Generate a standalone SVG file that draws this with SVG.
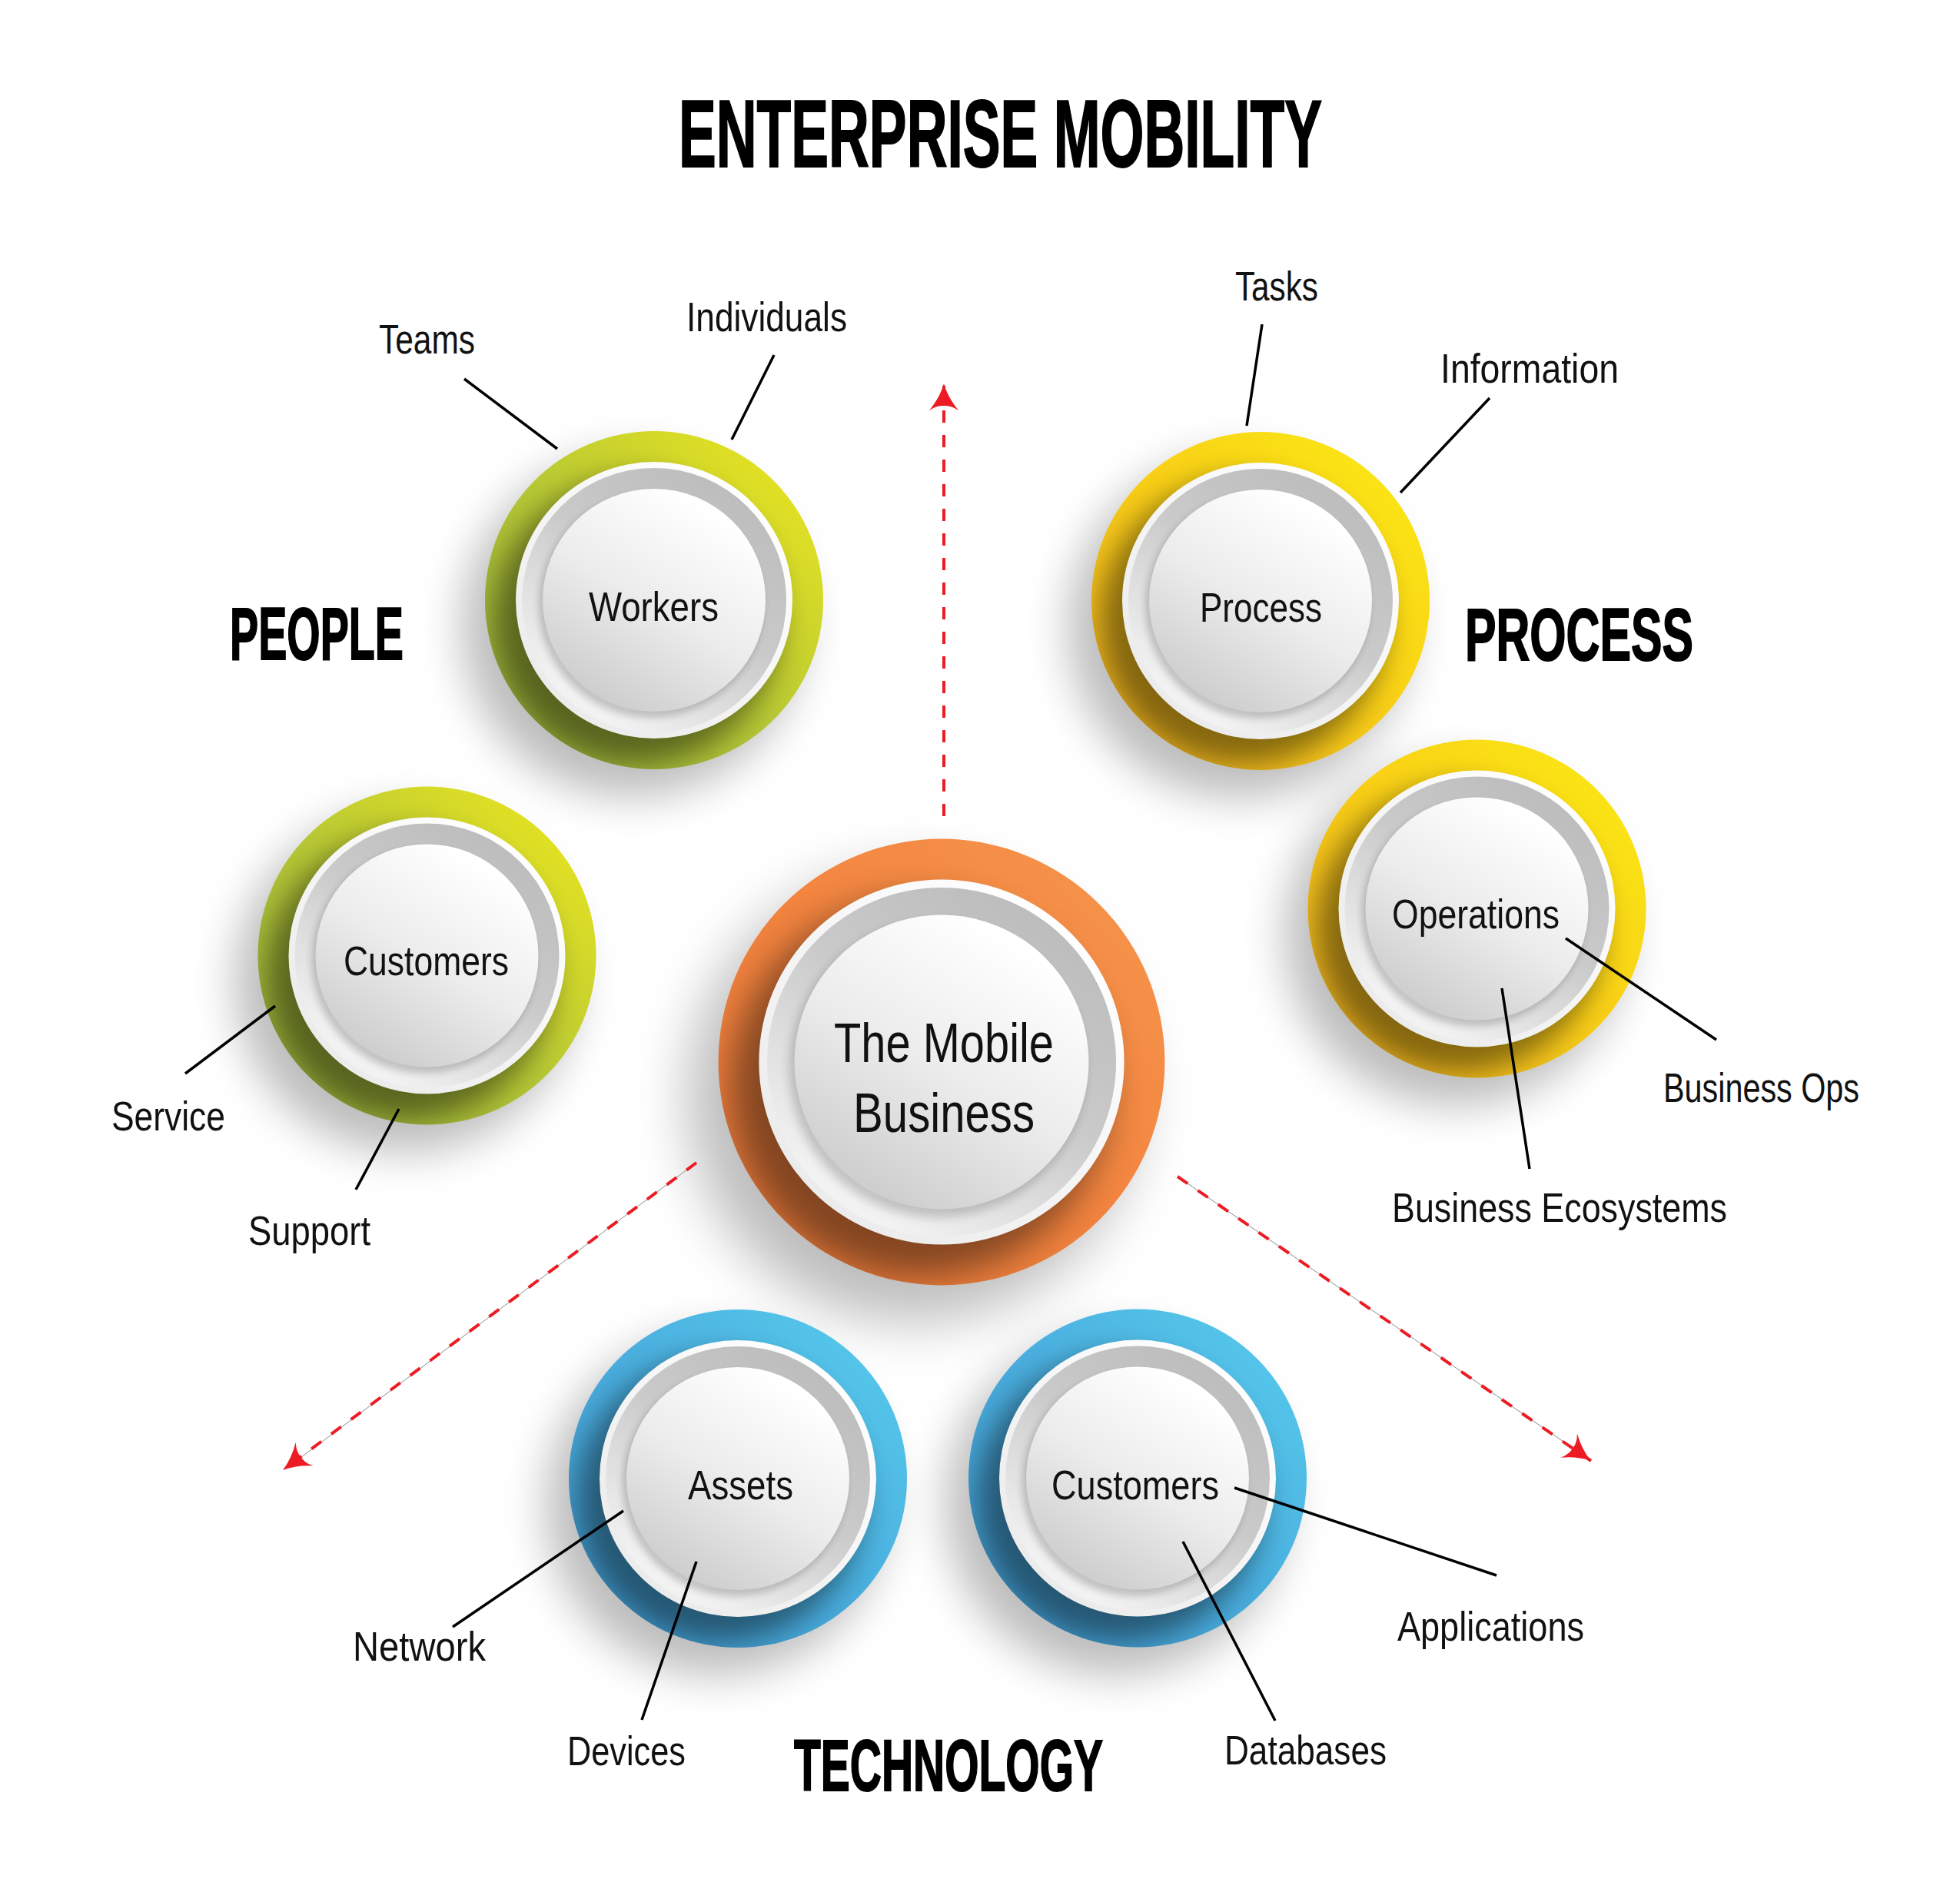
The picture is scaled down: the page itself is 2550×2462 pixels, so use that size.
<svg xmlns="http://www.w3.org/2000/svg" xmlns:xlink="http://www.w3.org/1999/xlink" width="2550" height="2462" viewBox="0 0 2550 2462">
<style>
  .lbl { font-family: "Liberation Sans", Arial, sans-serif; font-size: 54px; fill: #111; }
  .big { font-family: "Liberation Sans", Arial, sans-serif; font-size: 72px; fill: #111; }
  .hdr { font-family: "Liberation Sans", Arial, sans-serif; font-weight: 700; fill: #000; stroke: #000; stroke-width: 2px; }
  .lead { stroke: #000; stroke-width: 3.5; fill: none; }
  .hair { stroke: #8a8a8a; stroke-width: 1; fill: none; }
  .dash { stroke: #ED1C24; stroke-width: 4; stroke-dasharray: 16 16; fill: none; }
</style>
<defs>
  <linearGradient id="gGreen" x1="1" y1="0" x2="0" y2="1">
    <stop offset="0" stop-color="#F0E91C"/>
    <stop offset="0.5" stop-color="#B9C935"/>
    <stop offset="1" stop-color="#8FAA3C"/>
  </linearGradient>
  <linearGradient id="gYellow" x1="1" y1="0" x2="0" y2="1">
    <stop offset="0" stop-color="#FAEC14"/>
    <stop offset="0.5" stop-color="#F9CE17"/>
    <stop offset="1" stop-color="#ECAC22"/>
  </linearGradient>
  <linearGradient id="gOrange" x1="1" y1="0" x2="0" y2="1">
    <stop offset="0" stop-color="#F6964D"/>
    <stop offset="0.5" stop-color="#F3843F"/>
    <stop offset="1" stop-color="#EC7A3B"/>
  </linearGradient>
  <linearGradient id="gBlue" x1="1" y1="0" x2="0" y2="1">
    <stop offset="0" stop-color="#58CDEE"/>
    <stop offset="0.5" stop-color="#4AAEDE"/>
    <stop offset="1" stop-color="#3F94CA"/>
  </linearGradient>
  <linearGradient id="gDisk" x1="0.85" y1="0.1" x2="0.15" y2="0.9">
    <stop offset="0" stop-color="#ffffff"/>
    <stop offset="1" stop-color="#ebebeb"/>
  </linearGradient>
  <linearGradient id="gRim" x1="0.8" y1="0.1" x2="0.25" y2="0.9">
    <stop offset="0" stop-color="#bdbdbd"/>
    <stop offset="0.45" stop-color="#cacaca"/>
    <stop offset="1" stop-color="#f2f2f2"/>
  </linearGradient>
  <linearGradient id="gFace" x1="0.75" y1="0.1" x2="0.25" y2="0.95">
    <stop offset="0" stop-color="#ffffff"/>
    <stop offset="0.5" stop-color="#ececec"/>
    <stop offset="1" stop-color="#cdcdcd"/>
  </linearGradient>
  <filter id="fShadow" x="-60%" y="-60%" width="220%" height="220%">
    <feGaussianBlur stdDeviation="28"/>
  </filter>
  <filter id="fRingShade" x="-50%" y="-50%" width="200%" height="200%">
    <feGaussianBlur stdDeviation="18"/>
  </filter>
  <filter id="fFaceShade" x="-30%" y="-30%" width="160%" height="160%">
    <feGaussianBlur stdDeviation="5"/>
  </filter>
  <clipPath id="cRing"><circle cx="0" cy="0" r="220"/></clipPath>
  <g id="disc">
    <circle cx="-28" cy="34" r="222" fill="#000" opacity="0.26" filter="url(#fShadow)"/>
    <circle cx="0" cy="0" r="220"/>
    <g clip-path="url(#cRing)">
      <circle cx="-22" cy="26" r="186" fill="#000" opacity="0.45" filter="url(#fRingShade)"/>
    </g>
    <circle cx="0" cy="0" r="180" fill="url(#gDisk)"/>
    <circle cx="0" cy="0" r="172" fill="url(#gRim)"/>
    <circle cx="-4" cy="7" r="146" fill="#000" opacity="0.18" filter="url(#fFaceShade)"/>
    <circle cx="0" cy="0" r="145" fill="url(#gFace)"/>
  </g>
  <marker id="arr" markerUnits="userSpaceOnUse" viewBox="-36 -22 40 44" refX="0" refY="0" markerWidth="40" markerHeight="44" orient="auto">
    <path d="M0,0 Q-18,-5 -35,-19 Q-28,-9 -29,0 Q-28,9 -35,19 Q-18,5 0,0 Z" fill="#ED1C24"/>
  </marker>
</defs>

<rect x="0" y="0" width="2550" height="2462" fill="#ffffff"/>

<g id="title">
  <text class="hdr" x="883" y="217" font-size="124" textLength="837" lengthAdjust="spacingAndGlyphs">ENTERPRISE MOBILITY</text>
</g>

<g id="section-labels">
  <text class="hdr" x="299" y="858" font-size="96" textLength="226" lengthAdjust="spacingAndGlyphs">PEOPLE</text>
  <text class="hdr" x="1906" y="859" font-size="97" textLength="297" lengthAdjust="spacingAndGlyphs">PROCESS</text>
  <text class="hdr" x="1033" y="2330" font-size="95" textLength="402" lengthAdjust="spacingAndGlyphs">TECHNOLOGY</text>
</g>

<g id="node-workers">
  <use xlink:href="#disc" href="#disc" transform="translate(851 781)" fill="url(#gGreen)"/>
  <text class="lbl" x="766" y="808" textLength="169" lengthAdjust="spacingAndGlyphs">Workers</text>
  <text class="lbl" x="493" y="460" textLength="125" lengthAdjust="spacingAndGlyphs">Teams</text>
  <text class="lbl" x="893" y="431" textLength="209" lengthAdjust="spacingAndGlyphs">Individuals</text>
</g>

<g id="node-process">
  <use xlink:href="#disc" href="#disc" transform="translate(1640 782)" fill="url(#gYellow)"/>
  <text class="lbl" x="1561" y="809" textLength="159" lengthAdjust="spacingAndGlyphs">Process</text>
  <text class="lbl" x="1607" y="391" textLength="108" lengthAdjust="spacingAndGlyphs">Tasks</text>
  <text class="lbl" x="1874" y="498" textLength="232" lengthAdjust="spacingAndGlyphs">Information</text>
</g>

<g id="node-customers-people">
  <use xlink:href="#disc" href="#disc" transform="translate(555.5 1243.5)" fill="url(#gGreen)"/>
  <text class="lbl" x="447" y="1269" textLength="215" lengthAdjust="spacingAndGlyphs">Customers</text>
  <text class="lbl" x="145" y="1471" textLength="148" lengthAdjust="spacingAndGlyphs">Service</text>
  <text class="lbl" x="323" y="1620" textLength="159" lengthAdjust="spacingAndGlyphs">Support</text>
</g>

<g id="node-operations">
  <use xlink:href="#disc" href="#disc" transform="translate(1921.5 1182.5)" fill="url(#gYellow)"/>
  <text class="lbl" x="1811" y="1208" textLength="218" lengthAdjust="spacingAndGlyphs">Operations</text>
  <text class="lbl" x="2164" y="1434" textLength="255" lengthAdjust="spacingAndGlyphs">Business Ops</text>
  <text class="lbl" x="1811" y="1590" textLength="436" lengthAdjust="spacingAndGlyphs">Business Ecosystems</text>
</g>

<g id="node-mobile-business">
  <use xlink:href="#disc" href="#disc" transform="translate(1225 1382) scale(1.32)" fill="url(#gOrange)"/>
  <text class="big" x="1085" y="1382" textLength="286" lengthAdjust="spacingAndGlyphs">The Mobile</text>
  <text class="big" x="1110" y="1473" textLength="236" lengthAdjust="spacingAndGlyphs">Business</text>
</g>

<g id="node-assets">
  <use xlink:href="#disc" href="#disc" transform="translate(960 1924)" fill="url(#gBlue)"/>
  <text class="lbl" x="895" y="1951" textLength="137" lengthAdjust="spacingAndGlyphs">Assets</text>
  <text class="lbl" x="459" y="2161" textLength="173" lengthAdjust="spacingAndGlyphs">Network</text>
  <text class="lbl" x="738" y="2297" textLength="154" lengthAdjust="spacingAndGlyphs">Devices</text>
</g>

<g id="node-customers-tech">
  <use xlink:href="#disc" href="#disc" transform="translate(1480 1923.5)" fill="url(#gBlue)"/>
  <text class="lbl" x="1368" y="1951" textLength="218" lengthAdjust="spacingAndGlyphs">Customers</text>
  <text class="lbl" x="1818" y="2135" textLength="243" lengthAdjust="spacingAndGlyphs">Applications</text>
  <text class="lbl" x="1593" y="2296" textLength="211" lengthAdjust="spacingAndGlyphs">Databases</text>
</g>

<g id="connectors">
  <line class="dash" x1="1228" y1="1062" x2="1228" y2="499" marker-end="url(#arr)"/>
  <line class="hair" x1="906" y1="1513" x2="372" y2="1911"/>
  <line class="dash" x1="906" y1="1513" x2="368" y2="1913" marker-end="url(#arr)"/>
  <line class="hair" x1="1532" y1="1531" x2="2066" y2="1898"/>
  <line class="dash" x1="1532" y1="1531" x2="2070" y2="1901" marker-end="url(#arr)"/>

  <line class="lead" x1="604" y1="493" x2="725" y2="584"/>
  <line class="lead" x1="1007" y1="462" x2="952" y2="572"/>
  <line class="lead" x1="1642" y1="422" x2="1622" y2="554"/>
  <line class="lead" x1="1938" y1="518" x2="1822" y2="641"/>
  <line class="lead" x1="358" y1="1309" x2="241" y2="1397"/>
  <line class="lead" x1="519" y1="1443" x2="463" y2="1548"/>
  <line class="lead" x1="2037" y1="1221" x2="2233" y2="1353"/>
  <line class="lead" x1="1954" y1="1286" x2="1990" y2="1521"/>
  <line class="lead" x1="811" y1="1966" x2="589" y2="2117"/>
  <line class="lead" x1="906" y1="2032" x2="835" y2="2238"/>
  <line class="lead" x1="1606" y1="1936" x2="1947" y2="2050"/>
  <line class="lead" x1="1539" y1="2006" x2="1659" y2="2239"/>
</g>
</svg>
